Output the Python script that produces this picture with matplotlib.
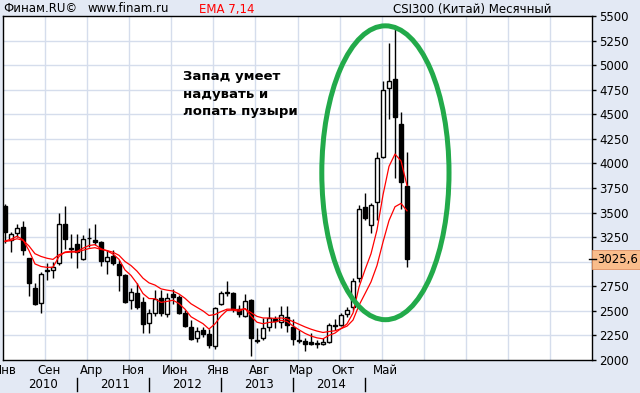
import matplotlib
matplotlib.use("Agg")
import matplotlib.pyplot as plt
from matplotlib.patches import Ellipse, Rectangle
from matplotlib.lines import Line2D
import numpy as np
import pandas as pd

# ---- data (monthly CSI300, Jan 2010 .. Aug 2015) ----
opens = [3565, 3219, 3293, 3350, 3033, 2728, 2576, 2905, 2914, 2982, 3388, 3136,
         3185, 3030, 3240, 3226, 3201, 3009, 3056, 2975, 2863, 2609, 2677, 2592,
         2373, 2474, 2633, 2467, 2670, 2637, 2474, 2338, 2220, 2305, 2264, 2142,
         2569, 2688, 2684, 2515, 2447, 2609, 2200, 2220, 2332, 2420, 2390, 2440,
         2338, 2200, 2193, 2180, 2165, 2165, 2186, 2355, 2355, 2470, 2541, 2830,
         3560, 3370, 3608, 4065, 4765, 4861, 4404, 3770]
highs = [3590, 3303, 3380, 3412, 3040, 2785, 2897, 2990, 2998, 3500, 3567, 3287,
         3287, 3270, 3340, 3381, 3212, 3117, 3117, 3016, 2873, 2728, 2785, 2637,
         2515, 2711, 2711, 2677, 2718, 2660, 2508, 2406, 2332, 2338, 2312, 2535,
         2704, 2800, 2690, 2560, 2670, 2616, 2322, 2430, 2535, 2450, 2545, 2545,
         2413, 2305, 2220, 2271, 2203, 2220, 2373, 2413, 2474, 2535, 2830, 3580,
         3700, 3600, 4115, 4835, 5222, 5380, 4520, 4115]
lows = [3190, 3100, 3250, 3066, 2650, 2555, 2475, 2812, 2830, 2970, 3134, 3033,
        2931, 3020, 3150, 3168, 2955, 2880, 2965, 2705, 2582, 2515, 2515, 2277,
        2271, 2447, 2447, 2440, 2569, 2467, 2332, 2203, 2186, 2237, 2119, 2109,
        2559, 2650, 2491, 2440, 2434, 2041, 2176, 2203, 2290, 2330, 2330, 2288,
        2150, 2173, 2095, 2152, 2119, 2150, 2170, 2305, 2345, 2440, 2510, 2790,
        3420, 3290, 3420, 4060, 4455, 3850, 3540, 2950]
closes = [3305, 3287, 3348, 3117, 2785, 2569, 2874, 2915, 2948, 3381, 3236, 3128,
          3100, 3236, 3246, 3201, 3009, 3043, 2982, 2863, 2592, 2694, 2535, 2366,
          2474, 2617, 2474, 2627, 2643, 2474, 2345, 2210, 2298, 2264, 2152, 2525,
          2684, 2680, 2515, 2464, 2602, 2220, 2196, 2322, 2424, 2400, 2457, 2355,
          2210, 2190, 2162, 2162, 2170, 2186, 2355, 2345, 2457, 2512, 2808, 3533,
          3445, 3572, 4051, 4749, 4840, 4471, 3816, 3025.6]
ema_start = {7: 3210, 14: 3205}   # indicator values at the first month
last_price = 3025.6
last_label = "3025,6"

month_labels = ["Янв", "Сен", "Апр", "Ноя", "Июн", "Янв", "Авг", "Мар", "Окт", "Май"]
month_pos = [0, 8, 15, 22, 29, 36, 43, 50, 57, 64]
year_labels = ["2010", "2011", "2012", "2013", "2014"]
ytick_vals = list(range(2000, 5501, 250))

header_left = ["Финам.RU©", "www.finam.ru"]
header_ema = "EMA 7,14"
header_right = "CSI300 (Китай) Месячный"
note = "Запад умеет\nнадувать и\nлопать пузыри"

# ---- derived indicator ----
def ema(values, span, start):
    a = 2.0 / (span + 1)
    out = [start]
    for v in values[1:]:
        out.append(out[-1] + a * (v - out[-1]))
    return out

ema7 = ema(closes, 7, ema_start[7])
ema14 = ema(closes, 14, ema_start[14])

# ---- figure ----
W, H = 640, 393
BG = "#E3E9F4"
GRID = "#D5DDEC"
fig = plt.figure(figsize=(W / 100, H / 100), dpi=100, facecolor=BG)
L, R, T, B = 3, 592, 16, 360
ax = fig.add_axes([L / W, 1 - B / H, (R - L) / W, (B - T) / H])
ax.set_facecolor("white")

x = np.arange(len(closes))
ax.set_xlim(-0.33, 97.83)
ax.set_ylim(2000, 5500)

# grid
for k in range(1, 14):
    ax.axvline(7 * k - 0.25, color=GRID, lw=1.0, zorder=0)
for v in ytick_vals[1:-1]:
    ax.axhline(v, color=GRID, lw=1.0, zorder=0)

# candles
o = np.array(opens, float); c = np.array(closes, float)
h = np.array(highs, float); l = np.array(lows, float)
ax.vlines(x, l, h, color="black", lw=1.0, zorder=2)
up = c >= o
bottoms = np.minimum(o, c)
heights = np.maximum(np.abs(c - o), 1.0)
ax.bar(x[up], heights[up], bottom=bottoms[up], width=0.55, color="white",
       edgecolor="black", linewidth=1.0, zorder=3)
ax.bar(x[~up], heights[~up], bottom=bottoms[~up], width=0.55, color="black",
       edgecolor="black", linewidth=1.0, zorder=3)

# EMA lines
ax.plot(x, ema7, color="#FF0000", lw=0.9, zorder=4)
ax.plot(x, ema14, color="#FF0000", lw=0.9, zorder=4)

# green ellipse
ax.add_patch(Ellipse((63.4, 3905), 21.2, 2990, fill=False, edgecolor="#22AA4A",
                     lw=3.6, zorder=5))

# note text
ax.text(29.7, 4950, note, fontsize=9.5, fontweight="bold", color="black",
        va="top", ha="left", linespacing=1.45, zorder=6)

# frame
for s in ax.spines.values():
    s.set_color("black"); s.set_linewidth(1.0)

# axes ticks
ax.set_xticks([])
ax.yaxis.tick_right()
ax.set_yticks(ytick_vals)
ax.set_yticklabels([("" if v == 3000 else str(v)) for v in ytick_vals])
ax.tick_params(axis="y", right=True, left=False, length=3, width=1, pad=2,
               labelsize=8.5, colors="black")

# price label box
ya = ax.get_yaxis_transform()
bh = 9.5 * 3500 / (B - T)
ax.add_patch(Rectangle((1.0, last_price - bh), 0.085, 2 * bh, transform=ya,
                       facecolor="#F9BD8B", edgecolor="#E09060", lw=0.6,
                       clip_on=False, zorder=6))
ax.add_line(Line2D([0.995, 1.006], [last_price, last_price], transform=ya,
                   color="black", lw=1.0, clip_on=False, zorder=7))
ax.text(1.0085, last_price, last_label, transform=ya, fontsize=8.5, va="center",
        ha="left", zorder=8, clip_on=False)

# x labels
xa = ax.get_xaxis_transform()
for name, p in zip(month_labels, month_pos):
    ax.text(p - 0.6 if p else p, -0.03, name, transform=xa, fontsize=8.5,
            ha="center", va="center", clip_on=False)
for k, yl in enumerate(year_labels):
    ax.text(12 * k + 6.3, -0.072, yl, transform=xa, fontsize=8.5,
            ha="center", va="center", clip_on=False)
for k in range(1, 6):
    ax.add_line(Line2D([12 * k, 12 * k], [-0.052, -0.09], transform=xa,
                       color="black", lw=1.0, clip_on=False))

# header
fig.text(3 / W, 1 - 9 / H, header_left[0], fontsize=8.5, va="center", ha="left")
fig.text(88 / W, 1 - 9 / H, header_left[1], fontsize=8.5, va="center", ha="left")
fig.text(199 / W, 1 - 9 / H, header_ema, fontsize=8.5, va="center", ha="left",
         color="#FF0000")
fig.text(393 / W, 1 - 9 / H, header_right, fontsize=8.5, va="center", ha="left")

fig.savefig("out.png", dpi=100, facecolor=BG)
